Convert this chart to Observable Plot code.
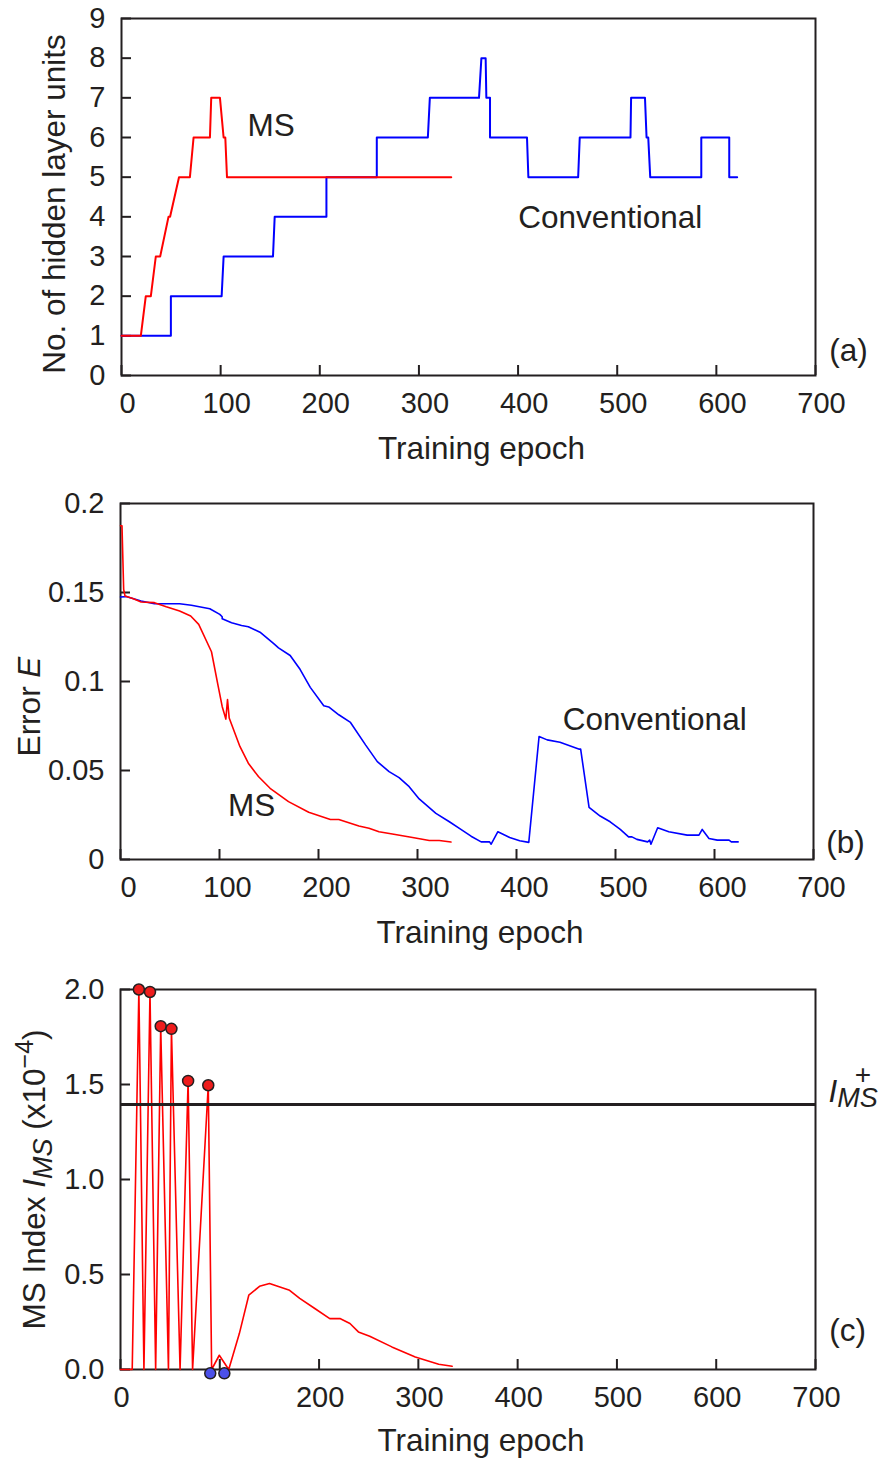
<!DOCTYPE html>
<html><head><meta charset="utf-8">
<script src="https://cdn.jsdelivr.net/npm/d3@7"></script>
<script src="https://cdn.jsdelivr.net/npm/@observablehq/plot@0.6"></script>
<style>
body{margin:0;background:#fff;}
#wrap{position:relative;width:890px;height:1459px;overflow:hidden;background:#fff;}
.panel{position:absolute;left:0;}
</style></head><body><div id="wrap"></div>
<script>
// ---------- data ----------
const epochTicks = [0, 100, 200, 300, 400, 500, 600, 700];
const unitTicks = [0, 1, 2, 3, 4, 5, 6, 7, 8, 9];
const errorTicks = [0, 0.05, 0.1, 0.15, 0.2];
const indexTicks = [0, 0.5, 1.0, 1.5, 2.0];

// (a) number of hidden units
const msUnitsEpoch = [0, 19.5, 24.5, 29.6, 34.6, 39, 47.4, 49, 58, 69, 72.7, 89.2, 90.5, 99.3, 103, 104.7, 106.4, 332.6];
const msUnits      = [1, 1, 2, 2, 3, 3, 4, 4, 5, 5, 6, 6, 7, 7, 6, 6, 5, 5];
const convUnitsEpoch = [0, 49.8, 49.8, 101, 103, 152.8, 154.5, 206.7, 206.7, 257.5, 257.5, 309, 311, 360.6, 363, 367.3, 368, 371.7, 371.7, 409, 410.4, 460.6, 462.2, 513.4, 514, 528, 529.6, 531.3, 533.3, 584.8, 584.8, 613, 613, 621];
const convUnits      = [1, 1, 2, 2, 3, 3, 4, 4, 5, 5, 6, 6, 7, 7, 8, 8, 7, 7, 6, 6, 5, 5, 6, 6, 7, 7, 6, 6, 5, 5, 6, 6, 5, 5];

// (b) error E
const msErrEpoch = [0, 1.5, 3.2, 4.6, 12.4, 20.8, 34.3, 46.2, 59.7, 70.9, 79, 91.9, 98.7, 102.7, 106.4, 108.1, 109.8, 120.6, 129.1, 139.3, 151.1, 169.7, 190.1, 212, 220.5, 240.8, 251, 261.1, 274.6, 295, 311.9, 322, 333.8];
const msErr      = [0.1875, 0.1875, 0.1518, 0.148, 0.1466, 0.1447, 0.1443, 0.142, 0.1396, 0.1368, 0.1321, 0.1167, 0.0973, 0.086, 0.0789, 0.0898, 0.0795, 0.0635, 0.0541, 0.0466, 0.04, 0.0325, 0.0265, 0.0225, 0.0225, 0.0188, 0.0176, 0.0156, 0.0143, 0.0124, 0.0107, 0.0107, 0.0098];
const convErrEpoch = [0, 5.6, 12.4, 20.8, 34.3, 59.7, 71.6, 90.2, 100.3, 102.7, 102.7, 112.2, 122.3, 129.1, 140.9, 154.5, 159.6, 171.4, 181.5, 191.7, 205.3, 210.3, 220.5, 232.3, 247.5, 259.4, 271.3, 281.4, 291.6, 301.7, 318.6, 332.2, 342.3, 354.1, 364.3, 372.8, 374.4, 381.2, 393.1, 403.2, 412.4, 422.8, 431, 443.9, 463.5, 464.8, 473.3, 484.5, 494.6, 504.8, 513.2, 516.6, 521.6, 532.5, 534.5, 535.8, 542.6, 553.8, 572.4, 584.3, 587.6, 594.4, 602.8, 614.7, 617, 623.9];
const convErr      = [0.1475, 0.1477, 0.1466, 0.1452, 0.1437, 0.1437, 0.1428, 0.1409, 0.1377, 0.1364, 0.1353, 0.133, 0.1315, 0.1308, 0.1277, 0.1214, 0.1189, 0.1146, 0.1067, 0.0967, 0.0864, 0.0857, 0.0813, 0.077, 0.0644, 0.055, 0.0494, 0.046, 0.0409, 0.034, 0.0259, 0.0212, 0.0175, 0.0131, 0.0099, 0.0099, 0.0086, 0.0156, 0.0124, 0.0105, 0.0096, 0.0691, 0.0672, 0.0659, 0.062, 0.062, 0.0293, 0.0244, 0.0212, 0.0169, 0.0127, 0.0127, 0.0113, 0.0099, 0.0109, 0.0086, 0.0178, 0.0156, 0.0137, 0.0137, 0.0169, 0.0118, 0.0109, 0.0109, 0.0099, 0.0099];

// (c) MS index (x1e-4)
const idxEpoch = [0, 11.8, 18.5, 23.6, 29.7, 35.4, 40.5, 48.3, 51.3, 60, 68.1, 72.6, 88.4, 91.8, 99.5, 109, 119.7, 129.2, 140, 150.1, 170.3, 180.5, 195.7, 210.8, 221, 231.1, 239.6, 251, 273.3, 296.9, 320.5, 334];
const idxValue = [0, 0, 2.0, 0, 1.987, 0, 1.807, 0, 1.793, 0, 1.519, 0, 1.496, 0, 0.075, 0, 0.189, 0.391, 0.438, 0.453, 0.417, 0.374, 0.321, 0.268, 0.268, 0.242, 0.198, 0.175, 0.119, 0.066, 0.028, 0.017];
const acceptEpoch = [18.5, 29.7, 40.5, 51.3, 68.1, 88.4];
const acceptValue = [2.0, 1.987, 1.807, 1.793, 1.519, 1.496];
const rejectEpoch = [90.4, 104.6];
const rejectValue = [-0.02, -0.02];
const thresholdIMS = [1.395];

// annotation labels (data coordinates)
const labelsA = [{text: "MS", epoch: 151, value: 6.3}, {text: "Conventional", epoch: 493, value: 3.98}];
const labelsB = [{text: "Conventional", epoch: 539.6, value: 0.0785}, {text: "MS", epoch: 132.5, value: 0.030}];

// ---------- helpers ----------
const FONT = "'Liberation Sans', Arial, Helvetica, sans-serif";
const INK = "#231f20";
const RED = "#ff0000";
const BLUE = "#0000ff";
const TITLE = 31.5;
const wrap = document.getElementById("wrap");
const rows = (xs, ys) => xs.map((x, i) => ({epoch: x, value: ys[i]}));
const style = {fontFamily: FONT, fontSize: "29px", color: INK, background: "transparent", overflow: "visible"};
function place(plot, top) {
  const d = document.createElement("div");
  d.className = "panel"; d.style.top = top + "px";
  d.appendChild(plot); wrap.appendChild(d);
}
function rich(svg, key, build) {
  d3.select(svg).selectAll("text").filter(function () { return this.textContent === key; })
    .each(function () { const t = d3.select(this); t.text(null); build(t); });
}
const axes = (yTicks, yFmt, xFmt, xdx) => [
  Plot.axisX(epochTicks, {tickSize: -10, strokeWidth: 2, label: null, tickFormat: () => ""}),
  Plot.axisX(epochTicks, {tickSize: 0, tickPadding: 17, dx: xdx, label: null, tickFormat: xFmt || (d => String(d))}),
  Plot.axisY(yTicks, {tickSize: -10, tickPadding: 26, strokeWidth: 2, label: null, tickFormat: yFmt}),
  Plot.frame({stroke: INK, strokeWidth: 2})
];
const xTitle = (dy) => Plot.text(["Training epoch"], {text: d => d, frameAnchor: "bottom", textAnchor: "middle", lineAnchor: "middle", dx: 13, dy, fontSize: TITLE, fill: INK});
const yTitle = (t, dx, dy) => Plot.text([t], {text: d => d, frameAnchor: "left", textAnchor: "middle", lineAnchor: "middle", rotate: -90, dx, dy, fontSize: TITLE, fill: INK});
const panelTag = (t, dx, dy) => Plot.text([t], {text: d => d, frameAnchor: "bottom-right", textAnchor: "middle", lineAnchor: "middle", dx, dy, fontSize: TITLE, fill: INK});

// ---------- (a) ----------
const plotA = Plot.plot({
  width: 890, height: 470, marginLeft: 121, marginRight: 75, marginTop: 18, marginBottom: 95,
  style,
  x: {domain: [0, 700], label: null}, y: {domain: [0, 9], label: null},
  marks: [
    ...axes(unitTicks, d => String(d), null, 6),
    Plot.line(rows(convUnitsEpoch, convUnits), {x: "epoch", y: "value", stroke: BLUE, strokeWidth: 2}),
    Plot.line(rows(msUnitsEpoch, msUnits), {x: "epoch", y: "value", stroke: RED, strokeWidth: 2}),
    Plot.text(labelsA, {x: "epoch", y: "value", text: "text", fontSize: TITLE, fill: INK}),
    xTitle(73),
    yTitle("No. of hidden layer units", -67, 7),
    panelTag("(a)", 33, -25)
  ]
});
place(plotA, 0);

// ---------- (b) ----------
const plotB = Plot.plot({
  width: 890, height: 470, marginLeft: 120, marginRight: 77, marginTop: 18, marginBottom: 96,
  style,
  x: {domain: [0, 700], label: null}, y: {domain: [0, 0.2], label: null},
  marks: [
    ...axes(errorTicks, d => String(d), null, 8),
    Plot.line(rows(convErrEpoch, convErr), {x: "epoch", y: "value", stroke: BLUE, strokeWidth: 1.6}),
    Plot.line(rows(msErrEpoch, msErr), {x: "epoch", y: "value", stroke: RED, strokeWidth: 1.6}),
    Plot.text(labelsB, {x: "epoch", y: "value", text: "text", fontSize: TITLE, fill: INK}),
    xTitle(73),
    yTitle("Error E", -91, 25),
    panelTag("(b)", 32, -17)
  ]
});
rich(plotB, "Error E", t => { t.append("tspan").text("Error "); t.append("tspan").attr("font-style", "italic").text("E"); });
place(plotB, 485);

// ---------- (c) ----------
const plotC = Plot.plot({
  width: 890, height: 489, marginLeft: 120, marginRight: 75, marginTop: 19, marginBottom: 90,
  style,
  x: {domain: [0, 700], label: null}, y: {domain: [0, 2.0], label: null},
  marks: [
    ...axes(indexTicks, d => d.toFixed(1), d => (d === 100 ? "" : String(d)), 1),
    Plot.line(rows(idxEpoch, idxValue), {x: "epoch", y: "value", stroke: RED, strokeWidth: 1.6}),
    Plot.ruleY(thresholdIMS, {stroke: INK, strokeWidth: 3}),
    Plot.dot(rows(acceptEpoch, acceptValue), {x: "epoch", y: "value", r: 5.5, fill: "#ee1c1c", stroke: INK, strokeWidth: 1.5}),
    Plot.dot(rows(rejectEpoch, rejectValue), {x: "epoch", y: "value", r: 5.5, fill: "#4b50e8", stroke: INK, strokeWidth: 1.5}),
    Plot.text(thresholdIMS, {y: d => d, text: () => "IMS+", frameAnchor: "right", textAnchor: "start", lineAnchor: "bottom", dx: 13, dy: -2, fontSize: TITLE, fill: INK}),
    xTitle(71),
    yTitle("MS Index IMS (x10−4)", -86, 0),
    panelTag("(c)", 32, -39)
  ]
});
rich(plotC, "IMS+", t => {
  t.append("tspan").attr("font-style", "italic").text("I");
  t.append("tspan").attr("font-style", "italic").attr("font-size", "27px").attr("dy", 5).text("MS");
  t.append("tspan").attr("font-size", "28px").attr("dx", -23).attr("dy", -23).text("+");
});
rich(plotC, "MS Index IMS (x10−4)", t => {
  t.append("tspan").text("MS Index ");
  t.append("tspan").attr("font-style", "italic").text("I");
  t.append("tspan").attr("font-style", "italic").attr("font-size", "27px").attr("dy", 7).text("MS");
  t.append("tspan").attr("dy", -7).text(" (x10");
  t.append("tspan").attr("font-size", "25px").attr("dy", -12).text("−4");
  t.append("tspan").attr("dy", 12).text(")");
});
place(plotC, 970);
</script></body></html>
